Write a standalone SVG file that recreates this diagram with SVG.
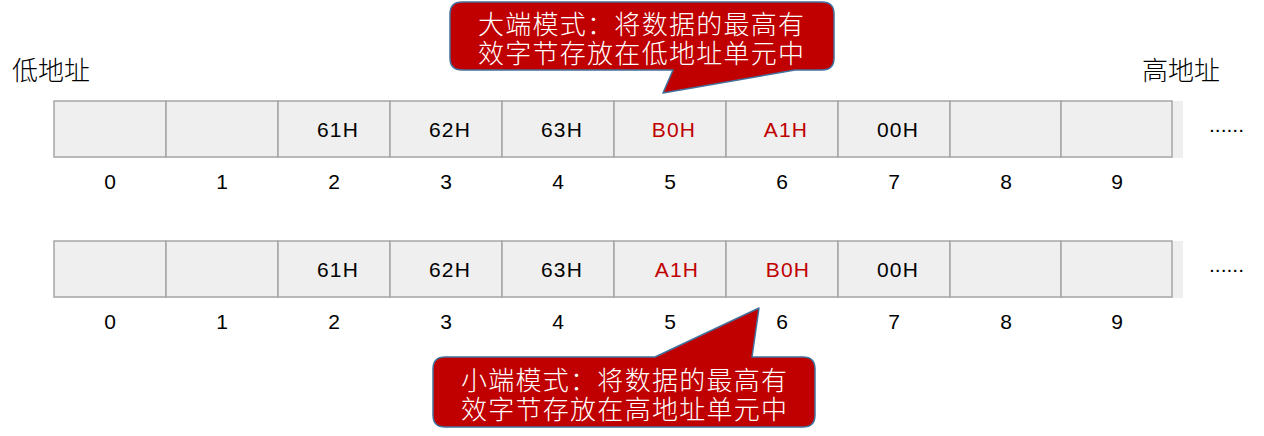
<svg xmlns="http://www.w3.org/2000/svg" width="1264" height="436" viewBox="0 0 1264 436">
<style>
.cell{fill:#efefef;stroke:#a6a6a6;stroke-width:1.5}
.strip{fill:#efefef}
.v{font-family:"Liberation Sans",Arial,sans-serif;font-size:21px;letter-spacing:1.2px;text-anchor:middle;fill:#000}
.r{fill:#c00000}
.n{font-family:"Liberation Sans",Arial,sans-serif;font-size:21px;text-anchor:middle;fill:#000}
.lbl{font-family:"Liberation Sans","Noto Sans CJK SC",sans-serif;font-size:26px;font-weight:300;fill:#000}
.co{fill:#c00000;stroke:#41719c;stroke-width:1.5;stroke-linejoin:round}
.ct{font-family:"Liberation Sans","Noto Sans CJK SC",sans-serif;font-size:26px;font-weight:300;fill:#fff;text-anchor:middle}
.dots{font-family:"Liberation Sans",Arial,sans-serif;font-size:21px;fill:#000}
</style>
<rect width="1264" height="436" fill="#fff"/>
<g id="labels">
<text class="lbl" x="12" y="80">低地址</text>
<text class="lbl" x="1142" y="80">高地址</text>
</g>
<g id="row1">
<rect class="strip" x="54" y="101" width="1129" height="57"/>
<rect class="cell" x="54" y="101" width="112" height="56"/>
<rect class="cell" x="166" y="101" width="112" height="56"/>
<rect class="cell" x="278" y="101" width="112" height="56"/>
<rect class="cell" x="390" y="101" width="112" height="56"/>
<rect class="cell" x="502" y="101" width="112" height="56"/>
<rect class="cell" x="614" y="101" width="112" height="56"/>
<rect class="cell" x="726" y="101" width="112" height="56"/>
<rect class="cell" x="838" y="101" width="112" height="56"/>
<rect class="cell" x="950" y="101" width="111" height="56"/>
<rect class="cell" x="1061" y="101" width="111" height="56"/>
<text class="v" x="338" y="137">61H</text>
<text class="v" x="450" y="137">62H</text>
<text class="v" x="562" y="137">63H</text>
<text class="v r" x="674" y="137">B0H</text>
<text class="v r" x="786" y="137">A1H</text>
<text class="v" x="898" y="137">00H</text>
<text class="dots" x="1209" y="132">......</text>
<text class="n" x="110" y="189">0</text>
<text class="n" x="222" y="189">1</text>
<text class="n" x="334" y="189">2</text>
<text class="n" x="446" y="189">3</text>
<text class="n" x="558" y="189">4</text>
<text class="n" x="670" y="189">5</text>
<text class="n" x="782" y="189">6</text>
<text class="n" x="894" y="189">7</text>
<text class="n" x="1006" y="189">8</text>
<text class="n" x="1117" y="189">9</text>
</g>
<g id="row2">
<rect class="strip" x="54" y="241" width="1129" height="57"/>
<rect class="cell" x="54" y="241" width="112" height="56"/>
<rect class="cell" x="166" y="241" width="112" height="56"/>
<rect class="cell" x="278" y="241" width="112" height="56"/>
<rect class="cell" x="390" y="241" width="112" height="56"/>
<rect class="cell" x="502" y="241" width="112" height="56"/>
<rect class="cell" x="614" y="241" width="112" height="56"/>
<rect class="cell" x="726" y="241" width="112" height="56"/>
<rect class="cell" x="838" y="241" width="112" height="56"/>
<rect class="cell" x="950" y="241" width="111" height="56"/>
<rect class="cell" x="1061" y="241" width="111" height="56"/>
<text class="v" x="338" y="277">61H</text>
<text class="v" x="450" y="277">62H</text>
<text class="v" x="562" y="277">63H</text>
<text class="v r" x="677" y="277">A1H</text>
<text class="v r" x="788" y="277">B0H</text>
<text class="v" x="898" y="277">00H</text>
<text class="dots" x="1209" y="272">......</text>
<text class="n" x="110" y="329">0</text>
<text class="n" x="222" y="329">1</text>
<text class="n" x="334" y="329">2</text>
<text class="n" x="446" y="329">3</text>
<text class="n" x="558" y="329">4</text>
<text class="n" x="670" y="329">5</text>
<text class="n" x="782" y="329">6</text>
<text class="n" x="894" y="329">7</text>
<text class="n" x="1006" y="329">8</text>
<text class="n" x="1117" y="329">9</text>
</g>
<g id="callout-big">
<path class="co" d="M462,2 H822 Q834,2 834,14 V58 Q834,70 822,70 H795 L663,93 L673,70 H462 Q450,70 450,58 V14 Q450,2 462,2 Z"/>
<text class="ct"><tspan x="641" y="34" textLength="326">大端模式：将数据的最高有</tspan><tspan x="641" y="63" textLength="326">效字节存放在低地址单元中</tspan></text>
</g>
<g id="callout-little">
<path class="co" d="M445,357 H655 L759,308 L752,357 H803 Q815,357 815,369 V415 Q815,427 803,427 H445 Q433,427 433,415 V369 Q433,357 445,357 Z"/>
<text class="ct"><tspan x="624" y="390" textLength="326">小端模式：将数据的最高有</tspan><tspan x="624" y="419" textLength="326">效字节存放在高地址单元中</tspan></text>
</g>
</svg>
